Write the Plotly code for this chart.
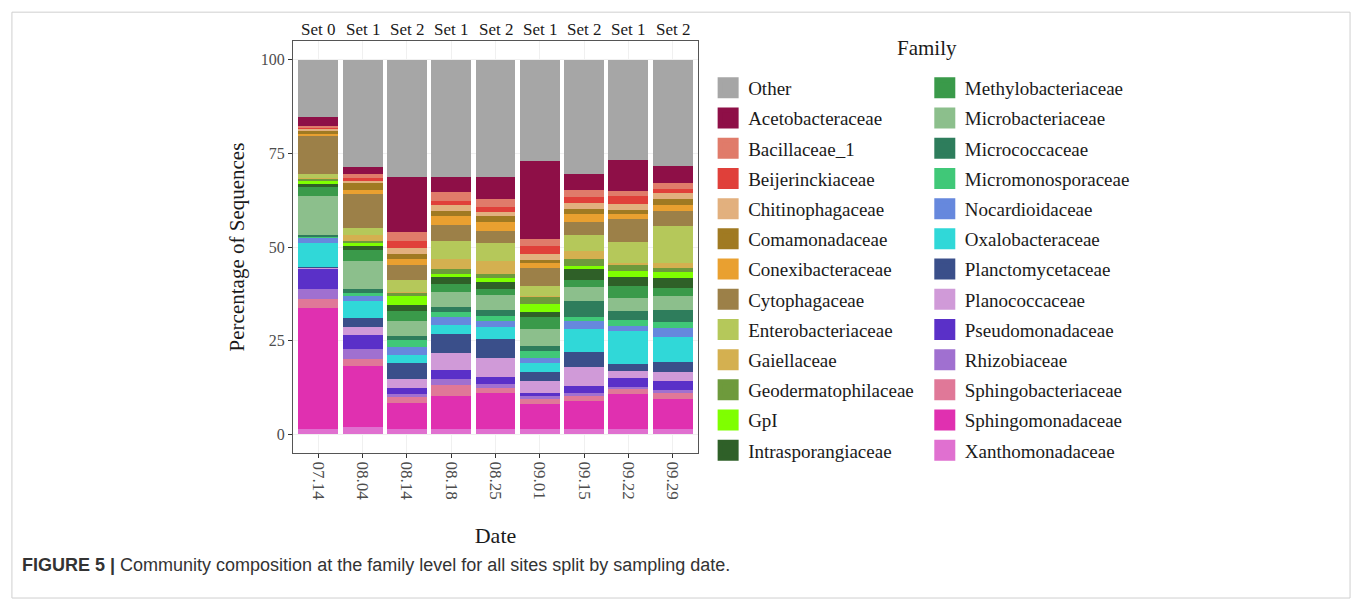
import plotly.graph_objects as go

dates = ["07.14", "08.04", "08.14", "08.18", "08.25", "09.01", "09.15", "09.22", "09.29"]
sets = ["Set 0", "Set 1", "Set 2", "Set 1", "Set 2", "Set 1", "Set 2", "Set 1", "Set 2"]

other = [15.4, 28.6, 31.4, 31.4, 31.4, 27.1, 30.5, 26.9, 28.5]
acetobacteraceae = [2.4, 1.9, 14.6, 4.0, 5.9, 20.7, 4.4, 8.2, 4.4]
bacillaceae_1 = [0.4, 1.2, 2.5, 2.4, 2.1, 1.8, 1.7, 1.2, 1.5]
beijerinckiaceae = [0.2, 0.6, 1.7, 1.1, 1.3, 2.4, 1.6, 2.1, 1.2]
chitinophagaceae = [0.5, 0.7, 1.8, 1.6, 1.1, 1.5, 1.6, 1.8, 1.7]
comamonadaceae = [0.9, 1.8, 1.2, 1.3, 1.6, 0.7, 1.3, 1.1, 1.6]
conexibacteraceae = [0.6, 1.1, 1.5, 2.2, 2.4, 1.4, 2.3, 1.1, 1.4]
cytophagaceae = [10.0, 9.0, 4.0, 4.5, 3.1, 4.9, 3.5, 6.3, 4.2]
enterobacteriaceae = [1.1, 2.0, 3.3, 4.8, 4.9, 2.6, 4.2, 5.7, 9.7]
gaiellaceae = [0.3, 1.6, 0.2, 2.7, 3.5, 0.2, 2.2, 0.3, 1.4]
geodermatophilaceae = [0.7, 0.4, 0.9, 1.1, 0.9, 1.8, 1.8, 1.7, 1.1]
gpi = [0.8, 0.9, 2.5, 0.8, 1.1, 2.3, 0.9, 1.5, 1.5]
intrasporangiaceae = [0.5, 1.1, 1.5, 2.1, 1.9, 1.2, 2.9, 2.4, 2.7]
methylobacteriaceae = [2.6, 2.9, 2.7, 2.1, 1.7, 3.4, 1.7, 3.3, 2.2]
microbacteriaceae = [10.5, 7.5, 4.0, 3.8, 4.0, 4.3, 3.9, 3.5, 3.8]
micrococcaceae = [0.4, 0.9, 1.1, 1.5, 1.4, 1.5, 4.1, 2.4, 3.1]
micromonosporaceae = [0.2, 0.9, 1.7, 1.2, 1.5, 1.8, 1.2, 1.6, 1.6]
nocardioidaceae = [1.3, 1.4, 2.3, 2.1, 1.5, 1.3, 2.0, 1.3, 2.4]
oxalobacteraceae = [6.5, 4.4, 2.2, 2.6, 3.2, 2.5, 6.3, 8.9, 6.7]
planctomycetaceae = [0.3, 2.4, 4.2, 5.1, 5.1, 2.4, 3.9, 1.8, 2.7]
planococcaceae = [0.2, 2.3, 2.3, 4.5, 5.0, 3.3, 5.1, 2.0, 2.4]
pseudomonadaceae = [5.5, 3.6, 1.7, 2.4, 2.1, 0.7, 2.0, 2.2, 2.4]
rhizobiaceae = [2.7, 2.8, 0.7, 1.6, 0.9, 0.9, 0.7, 0.5, 0.9]
sphingobacteriaceae = [2.4, 1.8, 1.7, 2.9, 1.3, 1.3, 1.3, 1.5, 1.6]
sphingomonadaceae = [32.3, 16.3, 6.8, 8.9, 9.8, 6.7, 7.6, 9.4, 8.0]
xanthomonadaceae = [1.3, 1.9, 1.5, 1.3, 1.3, 1.3, 1.3, 1.3, 1.3]

# legend order (top of stack first)
families = [
    ("Other", other, "#a6a6a6"),
    ("Acetobacteraceae", acetobacteraceae, "#8e0f47"),
    ("Bacillaceae_1", bacillaceae_1, "#e07b6a"),
    ("Beijerinckiaceae", beijerinckiaceae, "#e0403a"),
    ("Chitinophagaceae", chitinophagaceae, "#e2b07e"),
    ("Comamonadaceae", comamonadaceae, "#a07a22"),
    ("Conexibacteraceae", conexibacteraceae, "#e9a030"),
    ("Cytophagaceae", cytophagaceae, "#9c8048"),
    ("Enterobacteriaceae", enterobacteriaceae, "#b5c85a"),
    ("Gaiellaceae", gaiellaceae, "#d4b050"),
    ("Geodermatophilaceae", geodermatophilaceae, "#6e9a3c"),
    ("GpI", gpi, "#7fff00"),
    ("Intrasporangiaceae", intrasporangiaceae, "#2f6028"),
    ("Methylobacteriaceae", methylobacteriaceae, "#3a9a4a"),
    ("Microbacteriaceae", microbacteriaceae, "#8cbf8c"),
    ("Micrococcaceae", micrococcaceae, "#2e7d5c"),
    ("Micromonosporaceae", micromonosporaceae, "#40c878"),
    ("Nocardioidaceae", nocardioidaceae, "#6688dd"),
    ("Oxalobacteraceae", oxalobacteraceae, "#30d8d8"),
    ("Planctomycetaceae", planctomycetaceae, "#3a4f8a"),
    ("Planococcaceae", planococcaceae, "#d09ad8"),
    ("Pseudomonadaceae", pseudomonadaceae, "#5a30c8"),
    ("Rhizobiaceae", rhizobiaceae, "#a070d0"),
    ("Sphingobacteriaceae", sphingobacteriaceae, "#e07898"),
    ("Sphingomonadaceae", sphingomonadaceae, "#e030b0"),
    ("Xanthomonadaceae", xanthomonadaceae, "#e070d0"),
]

SERIF = "Liberation Serif, Times New Roman, serif"

fig = go.Figure()

# stacked bars, bottom of stack first
for name, vals, col in reversed(families):
    fig.add_trace(go.Bar(
        x=dates, y=vals, name=name, width=0.9,
        marker=dict(color=col, line=dict(width=0)),
        showlegend=False,
    ))

# legend entries (two columns)
for i, (name, vals, col) in enumerate(families):
    fig.add_trace(go.Scatter(
        x=[None], y=[None], mode="markers", name=name,
        marker=dict(symbol="square", size=16, color=col, line=dict(color=col, width=5)),
        legend="legend" if i < 13 else "legend2",
        legendgroup=name, showlegend=True,
    ))

legend_common = dict(
    font=dict(family=SERIF, size=19, color="#1a1a1a"),
    bgcolor="rgba(0,0,0,0)", borderwidth=0,
    tracegroupgap=2.5, traceorder="grouped",
    xanchor="left", yanchor="top", itemsizing="trace",
)

annotations = [
    dict(x=i, y=1.027, xref="x", yref="paper", text=s, showarrow=False,
         xanchor="center", yanchor="middle",
         font=dict(family=SERIF, size=17, color="#1a1a1a"))
    for i, s in enumerate(sets)
]
annotations.append(dict(x=1.565, y=0.983, xref="paper", yref="paper", text="Family",
                        xanchor="center", yanchor="middle", showarrow=False,
                        font=dict(family=SERIF, size=21, color="#1a1a1a")))
annotations.append(dict(x=-0.675, y=-0.272, xref="paper", yref="paper", xanchor="left", yanchor="middle",
                        text="<b>FIGURE 5 |</b> Community composition at the family level for all sites split by sampling date.",
                        showarrow=False, font=dict(family="Liberation Sans, Arial, sans-serif", size=18, color="#333333")))

fig.update_layout(
    width=1360, height=610,
    margin=dict(l=293, r=662, t=41, b=157),
    barmode="stack",
    paper_bgcolor="white", plot_bgcolor="white",
    legend=dict(x=1.025, y=0.932, **legend_common),
    legend2=dict(x=1.56, y=0.932, **legend_common),
    annotations=annotations,
    shapes=[dict(type="rect", xref="paper", yref="paper",
                 x0=-0.694, x1=2.61, y0=-0.352, y1=1.070,
                 line=dict(color="#cfcfcf", width=1), fillcolor="rgba(0,0,0,0)", layer="below")],
    xaxis=dict(
        type="category", range=[-0.57, 8.57],
        tickangle=90, ticks="outside", ticklen=4, tickcolor="#333333",
        tickfont=dict(family=SERIF, size=17, color="#4d4d4d"),
        showline=True, linecolor="#555555", linewidth=1, mirror=True,
        showgrid=True, gridcolor="#f0f0f0", gridwidth=1,
        title=dict(text="Date", font=dict(family=SERIF, size=22, color="#1a1a1a"), standoff=28),
    ),
    yaxis=dict(
        range=[-5, 105], tickvals=[0, 25, 50, 75, 100],
        ticks="outside", ticklen=4, tickcolor="#333333",
        tickfont=dict(family=SERIF, size=16, color="#4d4d4d"),
        showline=True, linecolor="#555555", linewidth=1, mirror=True,
        showgrid=True, gridcolor="#f0f0f0", gridwidth=1, zeroline=False,
        title=dict(text="Percentage of Sequences", font=dict(family=SERIF, size=21, color="#1a1a1a"), standoff=10),
    ),
)

fig.write_html("out.html")
